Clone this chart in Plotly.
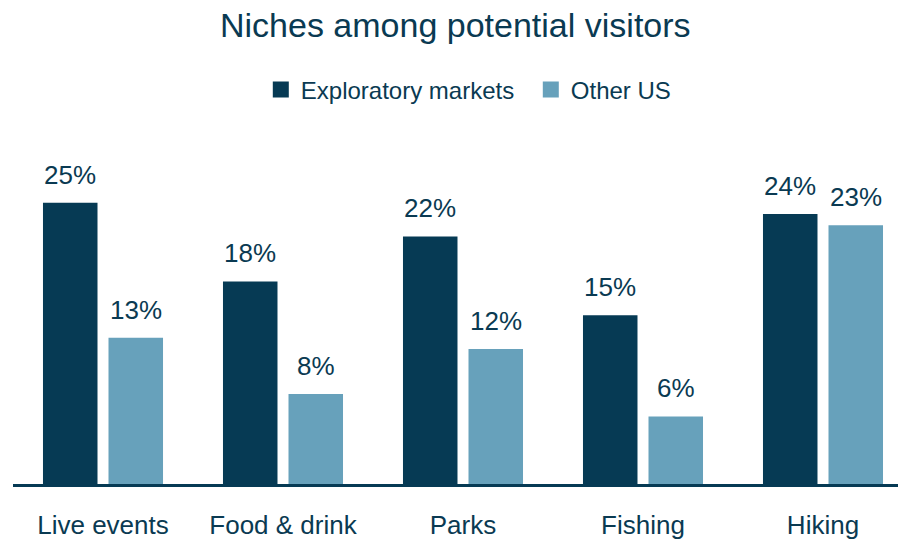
import plotly.graph_objects as go

categories = ["Live events", "Food & drink", "Parks", "Fishing", "Hiking"]
exploratory = [25, 18, 22, 15, 24]
other_us = [13, 8, 12, 6, 23]
series_names = ["Exploratory markets", "Other US"]

DARK = "#063a54"
LIGHT = "#67a1bb"
TEXT = "#0a3a52"
FONT = "Liberation Sans, Arial, sans-serif"

idx = list(range(len(categories)))

fig = go.Figure()
for vals, color in [(exploratory, DARK), (other_us, LIGHT)]:
    fig.add_trace(go.Bar(x=idx, y=vals, marker=dict(color=color, line=dict(width=0)),
                         showlegend=False, hoverinfo="skip"))

# legend entries with larger square swatches
for name, color in zip(series_names, [DARK, LIGHT]):
    fig.add_trace(go.Scatter(x=[None], y=[None], mode="markers", name=name,
                             marker=dict(symbol="square", size=16, color=color)))

# value labels above each bar
offset = 0.182
for i in idx:
    for vals, dx in [(exploratory, -offset), (other_us, offset)]:
        fig.add_annotation(x=i + dx, y=vals[i], text=f"{vals[i]}%", showarrow=False,
                           yanchor="bottom", yshift=11,
                           font=dict(family=FONT, size=26, color=TEXT))

fig.update_layout(
    width=898, height=540,
    margin=dict(l=13, r=0, t=134, b=56),
    paper_bgcolor="white", plot_bgcolor="white",
    barmode="group", bargap=0.272, bargroupgap=0.168,
    title=dict(text="Niches among potential visitors", x=0.507, xanchor="center",
               y=0.953, yanchor="middle",
               font=dict(family=FONT, size=34, color=TEXT)),
    legend=dict(orientation="h", x=0.28, xanchor="left", y=1.126, yanchor="middle",
                entrywidth=225, entrywidthmode="pixels",
                font=dict(family=FONT, size=24, color=TEXT), itemsizing="trace"),
    xaxis=dict(range=[-0.5, 4.4167], tickmode="array", tickvals=idx, ticktext=categories,
               showline=True, linecolor=DARK, linewidth=3, showgrid=False, zeroline=False,
               ticks="", ticklabelstandoff=16,
               tickfont=dict(family=FONT, size=26, color=TEXT), fixedrange=True),
    yaxis=dict(range=[0, 31.1], visible=False, showgrid=False, zeroline=False, fixedrange=True),
)

fig.write_html("out.html")
